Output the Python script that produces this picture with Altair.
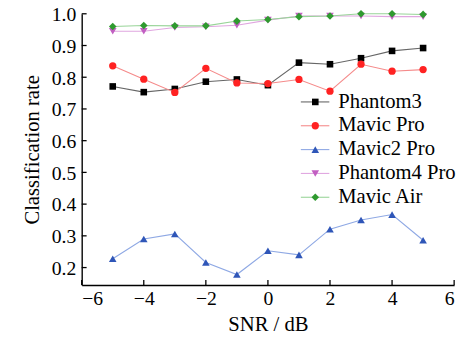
import altair as alt
import pandas as pd

snr = [-5, -4, -3, -2, -1, 0, 1, 2, 3, 4, 5]
series = ["Phantom3", "Mavic Pro", "Mavic2 Pro", "Phantom4 Pro", "Mavic Air"]
phantom3 = [0.771, 0.753, 0.763, 0.786, 0.793, 0.775, 0.846, 0.841, 0.860, 0.883, 0.892]
mavic_pro = [0.836, 0.794, 0.752, 0.828, 0.782, 0.780, 0.793, 0.756, 0.841, 0.819, 0.824]
mavic2_pro = [0.228, 0.290, 0.306, 0.216, 0.178, 0.253, 0.240, 0.321, 0.350, 0.367, 0.286]
phantom4_pro = [0.945, 0.945, 0.957, 0.959, 0.964, 0.980, 0.993, 0.993, 0.993, 0.991, 0.991]
mavic_air = [0.960, 0.963, 0.962, 0.962, 0.977, 0.982, 0.991, 0.993, 1.000, 1.000, 0.998]
x_ticks = [-6, -4, -2, 0, 2, 4, 6]
y_ticks = [0.2, 0.3, 0.4, 0.5, 0.6, 0.7, 0.8, 0.9, 1.0]

values = [phantom3, mavic_pro, mavic2_pro, phantom4_pro, mavic_air]
marker_colors = ["#000000", "#ff2222", "#2f56b8", "#c25fc2", "#2f9a2f"]
line_colors = ["#666666", "#f58a8a", "#8ea8e4", "#e0a6e0", "#98d498"]
shapes = ["square", "circle", "triangle-up", "triangle-down", "diamond"]
sizes = [45, 55, 60, 60, 60]

rows = []
for name, vals in zip(series, values):
    for s, v in zip(snr, vals):
        rows.append({"series": name, "snr": s, "rate": v})
df = pd.DataFrame(rows)

W, H = 379, 276
FONT = "Liberation Serif"

xscale = alt.Scale(domain=[-6, 6], nice=False)
yscale = alt.Scale(domain=[0.145, 1.0], nice=False, zero=False)
xaxis = alt.Axis(values=x_ticks, format="d", title="SNR / dB",
                 titleBaseline="alphabetic", titleY=46, titleAnchor="middle",
                 labelPadding=4, labelFont=FONT, titleFont=FONT)
yaxis = alt.Axis(values=y_ticks, format=".1f", title="Classification rate",
                 titlePadding=9, labelPadding=6, labelOffset=1,
                 labelFont=FONT, titleFont=FONT)


def X(field):
    return alt.X(field, type="quantitative", scale=xscale, axis=xaxis)


def Y(field):
    return alt.Y(field, type="quantitative", scale=yscale, axis=yaxis)


layers = []
for i, name in enumerate(series):
    sub = alt.Chart(df).transform_filter(alt.datum.series == name)
    layers.append(sub.mark_line(strokeWidth=1.1, color=line_colors[i]).encode(
        x=X("snr"), y=Y("rate")))
    layers.append(sub.mark_point(filled=True, opacity=1, shape=shapes[i],
                                 size=sizes[i], color=marker_colors[i]).encode(
        x=X("snr"), y=Y("rate")))

# inward ticks
xt = pd.DataFrame({"v": x_ticks})
yt = pd.DataFrame({"v": y_ticks})
layers.append(alt.Chart(xt).mark_rule(color="black", strokeWidth=1.3).encode(
    x=X("v"), y=alt.value(H), y2=alt.value(H - 5)))
layers.append(alt.Chart(yt).mark_rule(color="black", strokeWidth=1.3).encode(
    y=Y("v"), x=alt.value(0), x2=alt.value(5)))

# manual legend
for i, name in enumerate(series):
    ly = 89.7 + i * 24.25
    ld = pd.DataFrame({"series": [name]})
    lc = alt.Chart(ld)
    layers.append(lc.mark_rule(color=line_colors[i], strokeWidth=1.1).encode(
        x=alt.value(223), x2=alt.value(252), y=alt.value(ly)))
    layers.append(lc.mark_point(filled=True, opacity=1, shape=shapes[i],
                                size=sizes[i], color=marker_colors[i]).encode(
        x=alt.value(237.7), y=alt.value(ly)))
    layers.append(lc.mark_text(align="left", baseline="alphabetic", font=FONT,
                               fontSize=21, color="black", dy=5.7).encode(
        x=alt.value(261), y=alt.value(ly), text="series:N"))

chart = alt.layer(*layers).properties(
    width=W, height=H,
    autosize=alt.AutoSizeParams(type="none"),
    padding={"left": 75, "top": 3, "right": 8, "bottom": 49},
).configure(font=FONT).configure_view(stroke=None).configure_axis(
    grid=False, ticks=False, domainColor="black", domainWidth=1.4,
    labelFont=FONT, labelFontSize=20, labelColor="black",
    titleFont=FONT, titleFontSize=21, titleColor="black", titleFontWeight="normal",
).configure_text(font=FONT)

chart.save("out.html", embed_options={"renderer": "svg", "actions": False})
